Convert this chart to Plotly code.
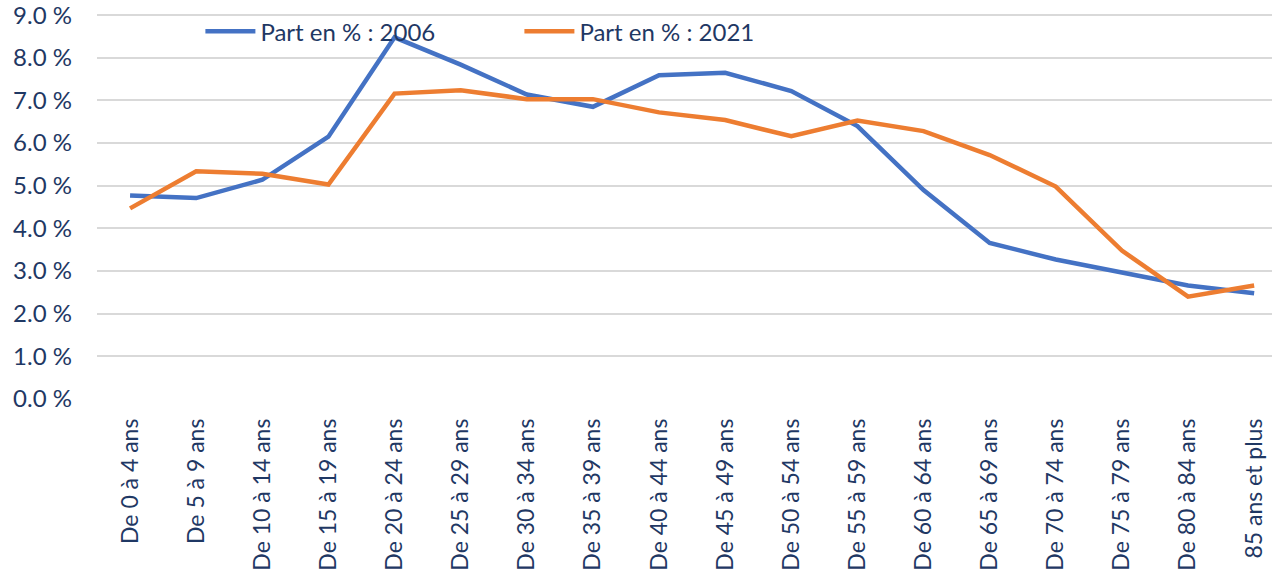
import plotly.graph_objects as go

categories = ["De 0 à 4 ans", "De 5 à 9 ans", "De 10 à 14 ans", "De 15 à 19 ans",
              "De 20 à 24 ans", "De 25 à 29 ans", "De 30 à 34 ans", "De 35 à 39 ans",
              "De 40 à 44 ans", "De 45 à 49 ans", "De 50 à 54 ans", "De 55 à 59 ans",
              "De 60 à 64 ans", "De 65 à 69 ans", "De 70 à 74 ans", "De 75 à 79 ans",
              "De 80 à 84 ans", "85 ans et plus"]
part_2006 = [4.77, 4.71, 5.14, 6.15, 8.48, 7.84, 7.14, 6.85, 7.59, 7.65, 7.22, 6.40,
             4.90, 3.66, 3.27, 2.96, 2.66, 2.48]
part_2021 = [4.47, 5.34, 5.28, 5.03, 7.16, 7.24, 7.03, 7.03, 6.72, 6.54, 6.16, 6.53,
             6.28, 5.72, 4.98, 3.48, 2.40, 2.66]
y_ticks = [0, 1, 2, 3, 4, 5, 6, 7, 8, 9]
y_ticktext = [f"{v:.1f} %" for v in y_ticks]

FONT = "Lato"
NAVY = "#1F3864"

fig = go.Figure()
fig.add_trace(go.Scatter(x=categories, y=part_2006, mode="lines", name="Part en % : 2006",
                         line=dict(color="#4472C4", width=4.5)))
fig.add_trace(go.Scatter(x=categories, y=part_2021, mode="lines", name="Part en % : 2021",
                         line=dict(color="#ED7D31", width=4.5)))

fig.update_layout(
    width=1272, height=575,
    margin=dict(l=97, r=0, t=13, b=176, autoexpand=False),
    paper_bgcolor="white", plot_bgcolor="white",
    font=dict(family=FONT, color=NAVY, size=22),
    showlegend=True,
    legend=dict(orientation="h", x=0.088, y=1.01, xanchor="left", yanchor="top",
                font=dict(size=24, color=NAVY, family=FONT),
                itemwidth=50,
                entrywidth=254, entrywidthmode="pixels",
                bgcolor="rgba(0,0,0,0)"),
    xaxis=dict(type="category", range=[-0.5, 17.27], showgrid=False, showline=False,
               zeroline=False, tickangle=-90, ticks="", automargin=False,
               ticklabelstandoff=14, ticklabeloverflow="allow",
               tickfont=dict(size=23, color=NAVY)),
    yaxis=dict(range=[0, 9.05], tickvals=y_ticks, ticktext=y_ticktext, showgrid=True,
               gridcolor="#D9D9D9", gridwidth=2, zeroline=False, showline=False,
               ticks="", ticklabelstandoff=24, automargin=False,
               ticklabeloverflow="allow",
               tickfont=dict(size=24, color=NAVY)),
)

fig.write_html("out.html", config={"displayModeBar": False},
               post_script="document.body.style.margin='0';document.body.style.overflow='hidden';")
